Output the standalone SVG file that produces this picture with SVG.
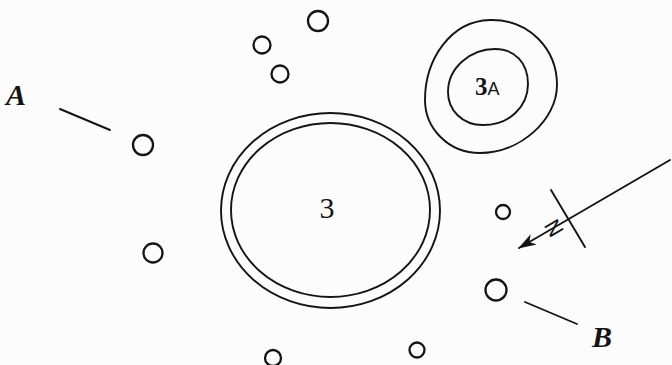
<svg xmlns="http://www.w3.org/2000/svg" width="672" height="365" viewBox="0 0 672 365">
<defs>
<style>
.ln{fill:none;stroke:#141414;stroke-width:1.9;stroke-linecap:round}
.c{fill:none;stroke:#141414;stroke-width:2.3}
.lbl{font-family:"Liberation Serif",serif;font-weight:bold;font-style:italic;font-size:30px;fill:#141414}
</style>
<marker id="ah" viewBox="0 0 18 12" refX="17" refY="6" markerWidth="18" markerHeight="12" markerUnits="userSpaceOnUse" orient="auto">
<path d="M0,0 L18,6 L0,12 L5,6 Z" fill="#141414"/>
</marker>
</defs>
<rect width="672" height="365" fill="#fcfcfc"/>
<g id="well3">
<ellipse class="ln" cx="330.5" cy="210.5" rx="109.5" ry="97.5"/>
<ellipse class="ln" cx="330.5" cy="210" rx="99.5" ry="87"/>
<text x="327" y="218" text-anchor="middle" font-family="Liberation Serif, serif" font-size="30" fill="#141414">3</text>
</g>
<g id="well3A">
<path class="ln" d="M490,20 C530,19 557,50 557,85 C557,120 520,153 480,153 C448,153 425,128 425,100 C425,60 450,21 490,20 Z"/>
<path class="ln" d="M495,49 C515,49 528,63 528,84 C528,106 510,125 483,125 C462,125 448,110 448,92 C448,68 470,49 495,49 Z"/>
<text x="475" y="95" font-family="Liberation Serif, serif" font-weight="bold" font-size="25" fill="#141414">3<tspan font-family="Liberation Sans, sans-serif" font-weight="normal" font-size="18">A</tspan></text>
</g>
<g id="posts">
<circle class="c" cx="318" cy="21" r="10"/>
<circle class="c" cx="262" cy="45" r="8.5"/>
<circle class="c" cx="280" cy="74" r="8.5"/>
<circle class="c" cx="143" cy="145" r="10"/>
<circle class="c" cx="153" cy="253" r="9.5"/>
<circle class="c" cx="503" cy="212" r="7"/>
<circle class="c" cx="496" cy="290" r="10.5"/>
<circle class="c" cx="273" cy="358" r="8"/>
<circle class="c" cx="417" cy="350" r="7.5"/>
</g>
<g id="labelA"><text class="lbl" x="6" y="105">A</text></g>
<g id="labelB"><text class="lbl" x="592" y="347">B</text></g>
<g id="connectors">
<line class="ln" x1="60" y1="109" x2="110" y2="130"/>
<line class="ln" x1="525" y1="302" x2="577" y2="324"/>
<line class="ln" x1="670" y1="160" x2="519" y2="248" marker-end="url(#ah)"/>
<line class="ln" x1="551" y1="190" x2="585" y2="247"/>
</g>
<g id="north">
<text x="554" y="228" text-anchor="middle" dominant-baseline="central" font-family="Liberation Sans, sans-serif" font-size="22" fill="#141414" transform="rotate(-120.7 554 228)">N</text>
</g>
</svg>
